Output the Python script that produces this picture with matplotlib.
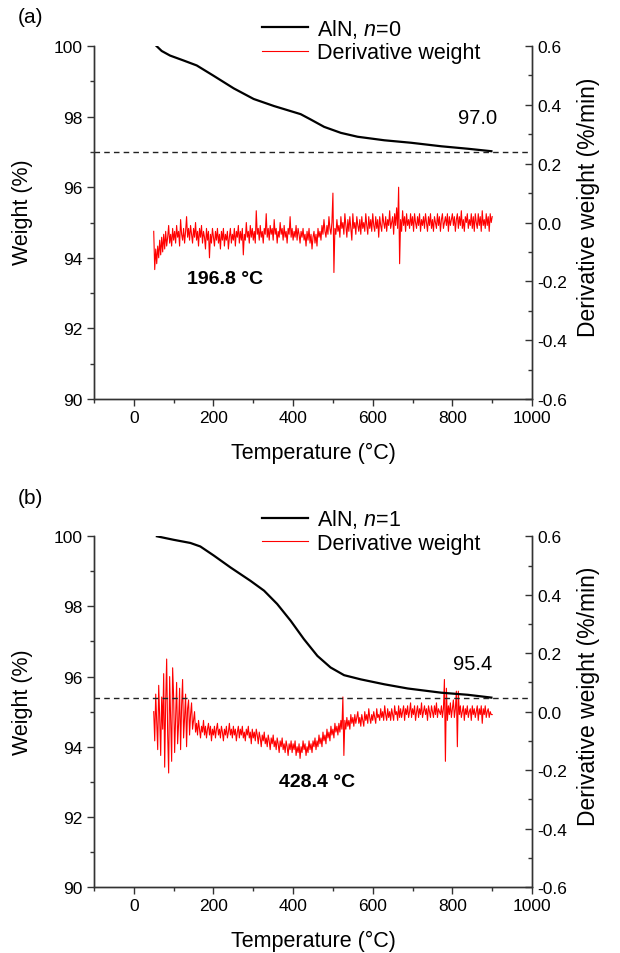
import numpy as np
import matplotlib
matplotlib.use("Agg")
import matplotlib.pyplot as plt
from matplotlib.ticker import MultipleLocator, FormatStrFormatter

plt.rcParams['font.family'] = ['Liberation Sans', 'DejaVu Sans']
plt.rcParams['mathtext.fontset'] = 'custom'
plt.rcParams['mathtext.it'] = 'Liberation Sans:italic'
plt.rcParams['mathtext.rm'] = 'Liberation Sans'
plt.rcParams['axes.unicode_minus'] = False

# weight curves
temp_a = [57, 70, 91, 125, 158, 200, 251, 301, 352, 419, 444, 478, 520, 562, 629, 696, 772, 839, 898]
weight_a = [100.0, 99.86, 99.73, 99.59, 99.45, 99.16, 98.80, 98.50, 98.30, 98.07, 97.92, 97.71, 97.54, 97.43, 97.33, 97.26, 97.16, 97.09, 97.02]

temp_b = [58, 100, 142, 167, 201, 243, 293, 327, 360, 394, 427, 461, 494, 528, 570, 629, 688, 772, 839, 898]
weight_b = [100.0, 99.90, 99.81, 99.71, 99.45, 99.11, 98.73, 98.45, 98.07, 97.59, 97.07, 96.59, 96.26, 96.04, 95.92, 95.78, 95.66, 95.54, 95.48, 95.40]

# derivative weight (%/min), one reading every 2.5 degC from 50 to 900
deriv_a = [
    -0.03, -0.16, -0.09, -0.14, -0.08, -0.12, -0.06, -0.11, -0.05, -0.10, -0.04, -0.09, -0.03, -0.08, -0.05, -0.01, -0.07, -0.04, -0.08, -0.02,
    -0.06, -0.03, -0.07, -0.01, -0.05, -0.03, -0.08, 0.01, -0.04, -0.06, -0.02, -0.07, -0.03, 0.02, -0.05, -0.02, -0.06, -0.01, -0.04, -0.07,
    -0.02, -0.05, 0.00, -0.06, -0.03, -0.08, -0.02, -0.05, -0.01, -0.07, -0.03, -0.05, -0.09, -0.02, -0.06, -0.03, -0.12, -0.04, -0.07, -0.02,
    -0.05, -0.08, -0.03, -0.06, -0.02, -0.07, -0.04, -0.09, -0.03, -0.06, -0.02, -0.08, -0.04, -0.06, -0.03, -0.09, -0.05, -0.02, -0.07, -0.04,
    -0.06, -0.02, -0.08, -0.03, -0.05, -0.01, -0.07, -0.03, -0.06, -0.02, -0.11, -0.04, -0.06, 0.00, -0.05, -0.03, -0.07, -0.01, -0.05, -0.02,
    -0.06, -0.03, -0.07, 0.04, -0.04, -0.02, -0.06, -0.01, -0.05, -0.03, -0.07, -0.02, -0.04, 0.03, -0.05, -0.02, -0.06, -0.01, -0.04, -0.02,
    -0.06, 0.01, -0.04, -0.02, -0.07, -0.03, -0.05, 0.00, -0.04, -0.02, -0.06, -0.01, -0.05, -0.03, -0.07, -0.02, -0.04, 0.02, -0.05, -0.02,
    -0.06, -0.03, -0.05, -0.01, -0.06, -0.02, -0.04, -0.07, -0.03, -0.05, -0.02, -0.06, -0.04, -0.08, -0.03, -0.06, -0.02, -0.07, -0.04, -0.09,
    -0.05, -0.03, -0.07, -0.04, -0.08, -0.02, -0.05, -0.03, -0.06, -0.01, -0.04, 0.01, -0.03, -0.05, -0.01, -0.04, 0.02, -0.02, -0.04, 0.00,
    0.10, -0.17, -0.02, -0.04, 0.01, -0.03, -0.01, -0.05, 0.02, -0.02, 0.00, -0.04, 0.03, -0.01, -0.05, 0.01, -0.03, 0.02, -0.02, -0.06,
    0.03, -0.02, 0.00, -0.04, 0.02, -0.01, -0.03, 0.01, -0.04, 0.02, -0.02, 0.00, -0.03, 0.03, -0.01, -0.04, 0.02, -0.02, 0.01, -0.03,
    0.03, -0.01, -0.03, 0.02, -0.02, 0.01, -0.05, 0.02, -0.01, -0.03, 0.03, 0.00, -0.02, 0.02, -0.03, 0.01, -0.01, 0.04, -0.02, 0.00,
    0.02, -0.04, 0.03, -0.01, 0.05, -0.02, 0.12, -0.14, 0.01, -0.03, 0.04, -0.01, 0.02, -0.03, 0.03, -0.01, 0.01, -0.02, 0.03, -0.01,
    0.02, -0.03, 0.03, 0.00, -0.02, 0.02, -0.01, 0.03, -0.03, 0.01, -0.01, 0.02, -0.02, 0.03, 0.00, -0.03, 0.02, -0.01, 0.03, -0.02,
    0.01, -0.03, 0.02, 0.00, -0.02, 0.03, -0.01, 0.02, -0.03, 0.01, 0.03, -0.02, 0.00, 0.02, -0.01, 0.03, -0.03, 0.02, -0.01, 0.01,
    0.03, -0.01, 0.02, -0.03, 0.01, 0.03, -0.02, 0.02, -0.01, 0.04, -0.02, 0.01, -0.03, 0.02, 0.00, 0.03, -0.02, 0.01, -0.01, 0.03,
    -0.02, 0.02, -0.03, 0.03, 0.00, -0.02, 0.03, -0.01, 0.02, -0.03, 0.04, -0.01, 0.01, -0.02, 0.03, -0.01, 0.02, -0.03, 0.03, 0.00,
    0.02,
]
deriv_b = [
    0.00, -0.10, 0.06, -0.04, -0.13, 0.09, -0.02, -0.15, 0.05, -0.06, 0.13, -0.19, 0.03, 0.18, -0.08, -0.21, 0.12, -0.03, -0.17, 0.15,
    0.05, -0.14, -0.02, 0.10, -0.11, -0.04, 0.08, -0.13, 0.02, 0.11, -0.09, -0.02, 0.06, -0.12, 0.01, 0.04, -0.08, -0.01, 0.03, -0.06,
    -0.03, 0.00, -0.07, -0.04, -0.08, -0.03, -0.06, -0.09, -0.05, -0.07, -0.03, -0.08, -0.05, -0.09, -0.06, -0.04, -0.08, -0.05, -0.10, -0.06,
    -0.08, -0.05, -0.09, -0.06, -0.04, -0.08, -0.06, -0.09, -0.05, -0.07, -0.10, -0.06, -0.08, -0.05, -0.09, -0.07, -0.04, -0.08, -0.06, -0.09,
    -0.05, -0.08, -0.06, -0.10, -0.07, -0.05, -0.09, -0.06, -0.08, -0.05, -0.09, -0.07, -0.10, -0.06, -0.08, -0.05, -0.09, -0.07, -0.11, -0.06,
    -0.09, -0.07, -0.10, -0.06, -0.08, -0.11, -0.07, -0.09, -0.12, -0.08, -0.10, -0.07, -0.11, -0.09, -0.12, -0.08, -0.10, -0.13, -0.09, -0.11,
    -0.08, -0.12, -0.10, -0.13, -0.09, -0.11, -0.14, -0.10, -0.12, -0.09, -0.13, -0.11, -0.14, -0.10, -0.12, -0.15, -0.11, -0.13, -0.10, -0.14,
    -0.11, -0.13, -0.10, -0.15, -0.12, -0.14, -0.11, -0.16, -0.12, -0.14, -0.10, -0.13, -0.11, -0.15, -0.12, -0.14, -0.10, -0.13, -0.11, -0.14,
    -0.10, -0.12, -0.09, -0.13, -0.10, -0.12, -0.08, -0.11, -0.09, -0.12, -0.07, -0.10, -0.08, -0.11, -0.06, -0.09, -0.07, -0.10, -0.05, -0.08,
    -0.06, -0.09, -0.04, -0.07, -0.05, -0.08, -0.04, -0.07, -0.03, -0.06, 0.05, -0.15, -0.03, -0.06, -0.02, -0.05, -0.03, -0.06, -0.01, -0.04,
    -0.02, -0.05, -0.01, -0.04, -0.02, 0.00, -0.04, -0.02, -0.05, -0.01, -0.03, -0.05, 0.00, -0.03, -0.01, -0.04, 0.01, -0.02, -0.04, -0.01,
    -0.03, 0.00, -0.02, -0.04, 0.01, -0.02, -0.01, -0.03, 0.01, -0.02, 0.00, -0.03, 0.02, -0.01, -0.03, 0.01, -0.02, 0.00, -0.03, 0.01,
    -0.01, -0.03, 0.02, -0.01, 0.00, -0.03, 0.02, -0.02, 0.01, -0.02, 0.00, 0.02, -0.03, 0.01, -0.01, 0.02, -0.02, 0.00, 0.03, -0.02,
    0.01, -0.01, 0.02, -0.03, 0.00, 0.02, -0.02, 0.01, -0.01, 0.03, -0.02, 0.00, 0.02, -0.01, 0.01, -0.03, 0.02, 0.00, -0.02, 0.02,
    0.00, -0.02, 0.02, -0.01, 0.03, -0.02, 0.01, 0.00, -0.01, 0.02, -0.02, 0.01, 0.11, -0.17, 0.08, -0.03, 0.02, -0.01, 0.03, -0.02,
    0.01, 0.04, -0.02, 0.01, 0.07, -0.12, 0.07, -0.01, 0.02, -0.02, 0.00, 0.02, -0.03, 0.01, -0.01, 0.02, -0.02, 0.00, 0.01, -0.03,
    0.02, -0.01, 0.01, -0.02, 0.00, 0.02, -0.03, 0.01, -0.01, 0.02, -0.04, 0.01, -0.01, 0.02, -0.02, 0.00, 0.01, -0.02, 0.00, -0.01,
    -0.01,
]

panels = [
    ("(a)", temp_a, weight_a, deriv_a, "AlN, $n$=0", 97.0, "97.0", (863, 97.98), "196.8 °C", (229, 93.40)),
    ("(b)", temp_b, weight_b, deriv_b, "AlN, $n$=1", 95.4, "95.4", (850, 96.38), "428.4 °C", (459, 93.01)),
]
boxes = [[0.1516, 0.5807, 0.7065, 0.3700], [0.1516, 0.0692, 0.7065, 0.3676]]
tags_y = [0.982, 0.477]

fig = plt.figure(figsize=(6.2, 9.54), dpi=100)

for i, (tag, tw, w, d, lab, final, final_txt, final_pos, peak_txt, peak_pos) in enumerate(panels):
    ax = fig.add_axes(boxes[i])
    ax2 = ax.twinx()
    td = np.linspace(50, 900, len(d))

    l2, = ax2.plot(td, d, color='red', lw=0.8)
    l1, = ax.plot(tw, w, color='black', lw=1.6)
    ax.set_zorder(ax2.get_zorder() + 1)
    ax.patch.set_visible(False)
    ax.axhline(final, color='#222222', lw=1.0, ls=(0, (4, 3)))

    ax.set_xlim(-100, 1000)
    ax.set_ylim(90, 100)
    ax2.set_ylim(-0.6, 0.6)
    ax.xaxis.set_major_locator(MultipleLocator(200))
    ax.xaxis.set_minor_locator(MultipleLocator(100))
    ax.yaxis.set_major_locator(MultipleLocator(2))
    ax.yaxis.set_minor_locator(MultipleLocator(1))
    ax2.yaxis.set_major_locator(MultipleLocator(0.2))
    ax2.yaxis.set_minor_locator(MultipleLocator(0.1))
    ax2.yaxis.set_major_formatter(FormatStrFormatter('%.1f'))

    for a in (ax, ax2):
        a.spines['top'].set_visible(False)
        for s in a.spines.values():
            s.set_color('#333333')
            s.set_linewidth(1.0)
    ax.tick_params(which='major', direction='out', length=5, width=1, labelsize=12.5, color='#333333', pad=3)
    ax.tick_params(which='minor', direction='out', length=3, width=1, color='#333333')
    ax2.tick_params(which='major', direction='in', length=5, width=1, labelsize=12.5, color='#333333', pad=4)
    ax2.tick_params(which='minor', direction='in', length=3, width=1, color='#333333')

    ax.set_xlabel("Temperature (°C)", fontsize=15.5)
    ax.xaxis.set_label_coords(0.5, -0.122)
    ax.set_ylabel("Weight (%)", fontsize=15.5)
    ax.yaxis.set_label_coords(-0.139, 0.531)
    ax2.set_ylabel("Derivative weight (%/min)", fontsize=16.5)
    ax2.yaxis.set_label_coords(1.103, 0.547)

    ax.text(final_pos[0], final_pos[1], final_txt, fontsize=14.5, ha='center', va='center')
    ax.text(peak_pos[0], peak_pos[1], peak_txt, fontsize=14, fontweight='bold', ha='center', va='center')

    ax.legend([l1, l2], [lab, "Derivative weight"], loc='upper left', bbox_to_anchor=(0.3836, 1.083),
              frameon=False, fontsize=15.5, handlelength=2.15, handletextpad=0.4,
              borderpad=0, borderaxespad=0, labelspacing=0.12)

    fig.text(0.028, tags_y[i], tag, fontsize=15, va='center')

fig.savefig("out.png", dpi=100)
